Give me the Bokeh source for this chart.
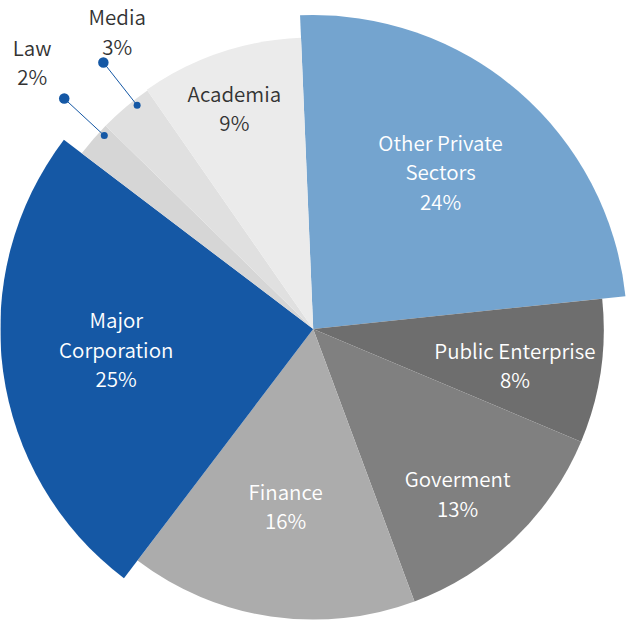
import numpy as np
from bokeh.plotting import figure
from bokeh.models import Range1d, ColumnDataSource
from bokeh.core.properties import value
from bokeh.embed import file_html
from bokeh.resources import INLINE

# ---- data ----
categories = ["Other Private\nSectors", "Public Enterprise", "Goverment", "Finance",
              "Major\nCorporation", "Law", "Media", "Academia"]
shares = [24, 8, 13, 16, 25, 2, 3, 9]

# ---- styling ----
colors = ["#74a4cf", "#6e6e6e", "#808080", "#acacac", "#1558a5", "#d6d6d6", "#e0e0e0", "#ebebeb"]
text_colors = ["white", "white", "white", "white", "white", "#333333", "#333333", "#333333"]
radii = [322, 298, 298, 298, 321, 298, 298, 299]
label_angle = [38.9, 99.9, 138.6, 188.9, 264.3, 313.6, 326.7, 340.4]   # clockwise from 12 o'clock
label_radius = [208, 210, 224, 183, 203, 398, 366, 241]
start_deg = -2.4
cx, cy = 320.7, 300.0
W, H = 642, 637
S = 626 / 642.0
FONT = "Noto Sans CJK KR DemiLight, Noto Sans CJK KR"
FS = 21

vals = np.array(shares, dtype=float)
ends = start_deg + np.cumsum(vals) / vals.sum() * 360.0
starts = ends - vals / vals.sum() * 360.0
mids = (starts + ends) / 2

def to_bokeh(theta):
    return np.radians(90.0 - np.asarray(theta))

src = ColumnDataSource(dict(
    cat=categories,
    start=to_bokeh(ends),
    end=to_bokeh(starts),
    r=radii,
    color=colors,
))

p = figure(width=626, height=621, x_range=Range1d(0, W), y_range=Range1d(0, H),
           output_backend="svg", toolbar_location=None, min_border=0,
           x_axis_location=None, y_axis_location=None, title=None)
p.grid.visible = False
p.outline_line_color = None
p.background_fill_color = "white"

p.wedge(x=cx, y=cy, radius="r", start_angle="start", end_angle="end",
        direction="anticlock", fill_color="color", line_color=None, source=src)

# leader lines for small slices (Law, Media)
for i in (5, 6):
    a = np.radians(mids[i] + 2.0)
    xi, yi = cx + 292 * np.sin(a), cy + 292 * np.cos(a)
    xo, yo = cx + 348 * np.sin(a), cy + 348 * np.cos(a)
    p.line([xi, xo], [yi, yo], line_color="#1558a5", line_width=1)
    p.scatter([xo], [yo], size=10.5, fill_color="#1558a5", line_color=None)
    p.scatter([xi], [yi], size=7, fill_color="#1558a5", line_color=None)

la = np.radians(label_angle)
lab = ColumnDataSource(dict(
    x=cx + np.array(label_radius) * np.sin(la),
    y=cy + np.array(label_radius) * np.cos(la),
    t=[f"{c}\n{v}%" for c, v in zip(categories, shares)],
    c=text_colors,
))
p.text(x="x", y="y", text="t", text_color="c", text_align="center", text_baseline="middle",
       text_font=value(FONT), text_font_size=f"{FS*S:.1f}px", text_line_height=0.98,
       source=lab)

open("out.html", "w").write(file_html(p, INLINE))
